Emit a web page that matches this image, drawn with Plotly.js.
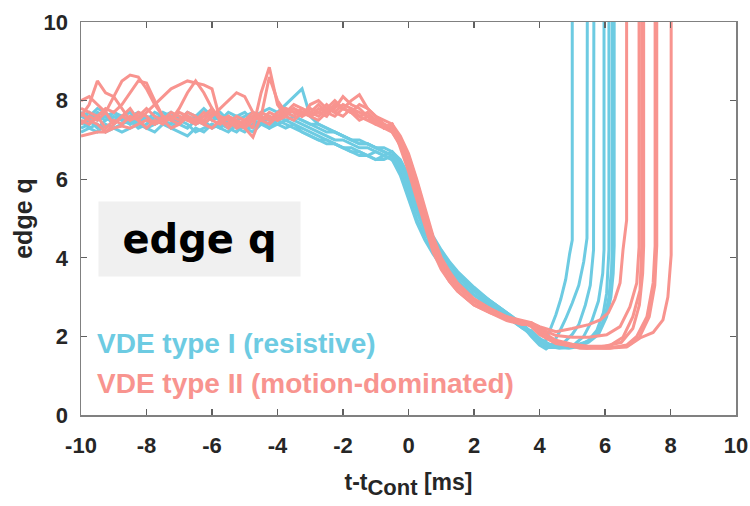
<!DOCTYPE html>
<html>
<head>
<meta charset="utf-8">
<script src="https://cdn.plot.ly/plotly-3.0.1.min.js"></script>
<style>
html,body{margin:0;padding:0;background:#fff;}
#chart{width:750px;height:506px;}
</style>
</head>
<body>
<div id="chart"></div>
<script>
// Shared time grids [ms]
const tPre = [-10,-9.75,-9.5,-9.25,-9,-8.75,-8.5,-8.25,-8,-7.75,-7.5,-7.25,-7,-6.75,-6.5,-6.25,-6,-5.75,-5.5,-5.25,-5,-4.75,-4.5,-4.25,-4,-3.75,-3.5,-3.25,-3,-2.75,-2.5,-2.25,-2,-1.75,-1.5,-1.25,-1,-0.75,-0.5];
const tDrop = [-0.25,0,0.25,0.5,0.75,1,1.25,1.5,2,2.5,3,3.5];

// VDE type I (resistive) - edge q before the current quench
const c1Pre = [7.4,7.5,7.3,7.5,7.6,7.5,7.4,7.6,7.5,7.7,7.6,7.5,7.4,7.6,7.5,7.4,7.6,7.5,7.7,7.6,7.5,7.6,7.7,7.8,7.7,7.9,8.1,8.3,7.6,7.4,7.3,7.2,7.1,7.0,6.9,6.9,6.8,6.7,6.6];
const c2Pre = [7.6,7.7,7.5,7.6,7.4,7.6,7.7,7.5,7.6,7.4,7.5,7.3,7.5,7.4,7.2,7.3,7.4,7.3,7.5,7.4,7.3,7.5,7.4,7.6,7.5,7.6,7.5,7.4,7.3,7.2,7.1,7.0,7.0,6.9,6.8,6.8,6.7,6.6,6.7];
const c3Pre = [7.3,7.4,7.6,7.5,7.7,7.6,7.5,7.4,7.6,7.5,7.6,7.7,7.5,7.6,7.4,7.5,7.3,7.4,7.3,7.2,7.4,7.3,7.5,7.4,7.6,7.5,7.4,7.3,7.2,7.1,7.0,6.9,6.8,6.8,6.7,6.6,6.7,6.6,6.5];
const c4Pre = [7.5,7.3,7.4,7.2,7.3,7.4,7.5,7.3,7.4,7.6,7.5,7.4,7.6,7.5,7.6,7.7,7.5,7.6,7.4,7.5,7.6,7.7,7.6,7.5,7.4,7.5,7.6,7.5,7.4,7.3,7.2,7.2,7.1,7.0,6.9,6.9,6.8,6.7,6.6];
const c5Pre = [7.7,7.6,7.8,7.7,7.5,7.6,7.4,7.5,7.3,7.4,7.5,7.6,7.4,7.3,7.5,7.6,7.7,7.5,7.4,7.3,7.2,7.4,7.5,7.3,7.4,7.3,7.4,7.2,7.1,7.0,7.0,6.9,6.8,6.7,6.6,6.6,6.5,6.5,6.6];
const c6Pre = [7.2,7.3,7.2,7.4,7.3,7.2,7.3,7.4,7.3,7.2,7.4,7.3,7.2,7.1,7.3,7.2,7.4,7.3,7.2,7.4,7.3,7.2,7.4,7.3,7.5,7.4,7.3,7.2,7.1,7.0,6.9,6.9,6.8,6.7,6.7,6.6,6.5,6.6,6.5];
const c7Pre = [7.6,7.5,7.7,7.6,7.7,7.5,7.6,7.7,7.6,7.5,7.7,7.6,7.5,7.7,7.6,7.8,7.6,7.7,7.5,7.6,7.7,7.5,7.6,7.5,7.6,7.7,7.6,7.5,7.4,7.4,7.3,7.2,7.1,7.0,7.0,6.9,6.8,6.8,6.7];

// VDE type I - the drop through the current quench
const c1Drop = [6.3,5.8,5.2,4.7,4.3,3.95,3.7,3.5,3.15,2.85,2.55,2.25];
const c2Drop = [6.45,6.0,5.45,4.9,4.5,4.15,3.85,3.6,3.2,2.9,2.6,2.25];
const c3Drop = [6.2,5.6,5.0,4.5,4.15,3.85,3.6,3.4,3.05,2.8,2.5,2.2];
const c4Drop = [6.4,5.95,5.35,4.85,4.45,4.1,3.8,3.6,3.2,2.9,2.6,2.3];
const c5Drop = [6.3,5.75,5.15,4.65,4.25,3.95,3.7,3.5,3.15,2.85,2.55,2.25];
const c6Drop = [6.1,5.5,4.9,4.45,4.1,3.8,3.6,3.4,3.05,2.75,2.5,2.2];
const c7Drop = [6.5,6.1,5.55,5.0,4.55,4.2,3.9,3.65,3.25,2.9,2.6,2.3];

// VDE type I - tails (minimum and final rise)
const c1TailT = [3.75,4.0,4.2,4.35,4.5,4.65,4.8,4.92,5.0,5.0];
const c1TailQ = [2.05,1.85,1.9,2.2,2.55,2.95,3.45,4.1,4.45,10.5];
const c2TailT = [3.75,4.0,4.2,4.4,4.6,4.8,5.0,5.2,5.35,5.45,5.46];
const c2TailQ = [2.0,1.78,1.68,1.8,2.1,2.45,2.85,3.3,3.9,4.5,10.5];
const c3TailT = [3.75,4.0,4.25,4.5,4.75,5.0,5.2,5.4,5.55,5.65,5.66];
const c3TailQ = [2.05,1.85,1.72,1.72,1.85,2.05,2.3,2.8,3.3,4.2,10.5];
const c4TailT = [3.75,4.0,4.3,4.6,4.9,5.1,5.35,5.6,5.8,5.93,5.97,5.97];
const c4TailQ = [2.1,1.9,1.75,1.7,1.73,1.82,2.0,2.4,2.9,3.6,4.2,10.5];
const c5TailT = [3.75,4.0,4.3,4.6,4.9,5.2,5.5,5.75,5.95,6.05,6.1,6.12,6.12];
const c5TailQ = [2.1,1.92,1.8,1.74,1.72,1.76,1.9,2.15,2.6,3.1,3.7,4.2,10.5];
const c6TailT = [3.75,4.0,4.3,4.6,4.9,5.2,5.5,5.8,6.0,6.12,6.2,6.22,6.22];
const c6TailQ = [2.15,1.95,1.8,1.76,1.77,1.8,1.88,2.1,2.5,3.0,3.7,4.2,10.5];
const c7TailT = [3.75,4.0,4.3,4.6,4.9,5.2,5.5,5.8,6.05,6.18,6.25,6.28,6.28];
const c7TailQ = [2.1,1.9,1.78,1.72,1.7,1.74,1.85,2.05,2.5,3.0,3.6,4.3,10.5];

// VDE type II (motion-dominated) - edge q before the current quench
const s1Pre = [7.6,7.9,8.5,8.2,8.1,7.8,7.5,7.7,7.6,7.4,7.5,7.7,7.6,7.5,7.4,7.6,7.8,7.5,7.4,7.6,7.5,7.7,7.6,7.5,7.7,7.8,7.7,7.6,7.8,7.7,7.6,7.9,7.8,7.7,7.6,7.5,7.4,7.4,7.3];
const s2Pre = [8.0,8.1,7.9,7.7,8.1,8.5,8.65,8.6,8.3,7.9,7.6,7.5,7.7,7.6,7.4,7.5,7.7,7.6,7.5,7.3,7.4,7.6,7.5,7.7,7.6,7.8,7.7,7.6,7.9,8.0,7.8,7.7,7.9,7.8,7.6,7.7,7.5,7.4,7.2];
const s3Pre = [7.4,7.6,7.5,7.7,7.4,7.6,7.8,7.5,7.7,7.9,8.1,8.3,8.4,8.5,8.45,8.4,8.3,7.5,7.3,7.5,7.4,7.6,7.5,7.4,7.6,7.7,7.8,7.6,7.7,7.9,7.7,7.8,8.1,7.9,7.8,7.6,7.5,7.3,7.4];
const s4Pre = [7.1,7.15,7.2,7.2,7.3,7.35,7.3,7.4,7.5,7.4,7.6,7.5,7.4,7.6,7.5,7.4,7.3,7.5,7.6,7.4,7.5,7.3,8.2,8.85,7.9,7.6,7.8,7.7,7.6,7.8,7.7,7.6,7.8,7.7,7.9,7.8,7.6,7.5,7.4];
const s5Pre = [7.8,7.7,7.6,7.8,7.7,7.9,8.2,8.5,8.45,8.0,7.6,7.5,7.8,8.2,8.5,8.2,7.8,7.5,7.6,7.4,7.3,7.5,7.7,7.6,7.5,7.7,7.6,7.8,7.7,7.6,7.8,8.0,7.8,7.7,7.5,7.6,7.4,7.3,7.4];
const s6Pre = [7.5,7.4,7.6,7.3,7.5,7.4,7.6,7.5,7.3,7.5,7.4,7.6,7.5,7.7,7.6,7.4,7.6,7.8,8.0,8.2,8.1,7.7,7.5,7.6,7.5,7.6,7.5,7.7,7.6,7.5,7.7,7.9,7.8,8.0,8.15,7.8,7.6,7.4,7.3];
const s7Pre = [7.7,7.5,7.4,7.2,7.4,7.6,7.5,7.6,7.8,7.6,7.5,7.3,7.4,7.6,7.5,7.7,7.5,7.4,7.6,7.5,7.3,7.07,7.6,8.6,8.0,7.7,7.9,7.8,7.6,7.7,7.9,7.7,7.6,7.8,7.7,7.6,7.5,7.3,7.2];

// VDE type II - the drop
const s1Drop = [7.0,6.55,5.9,5.1,4.45,3.95,3.6,3.35,2.95,2.7,2.5,2.35];
const s2Drop = [6.85,6.3,5.6,4.85,4.2,3.75,3.4,3.15,2.8,2.6,2.45,2.3];
const s3Drop = [7.1,6.65,6.0,5.25,4.55,4.0,3.65,3.35,2.95,2.7,2.5,2.4];
const s4Drop = [6.95,6.45,5.8,5.0,4.35,3.85,3.5,3.25,2.9,2.65,2.45,2.3];
const s5Drop = [6.8,6.2,5.5,4.8,4.15,3.7,3.4,3.15,2.8,2.6,2.4,2.3];
const s6Drop = [7.05,6.6,5.95,5.2,4.5,3.95,3.6,3.3,2.9,2.65,2.45,2.35];
const s7Drop = [6.9,6.4,5.7,4.95,4.3,3.8,3.5,3.25,2.9,2.65,2.45,2.3];

// VDE type II - tails
const s1TailT = [3.75,4.0,4.5,5.0,5.5,5.85,6.1,6.3,6.46,6.55,6.66,6.66];
const s1TailQ = [2.35,2.25,2.12,2.2,2.3,2.42,2.6,2.95,3.36,4.2,4.96,10.5];
const s2TailT = [3.75,4.0,4.5,5.0,5.5,6.05,6.46,6.76,6.97,7.04,7.04];
const s2TailQ = [2.3,2.2,2.02,1.98,1.98,2.04,2.25,2.75,3.36,4.27,10.5];
const s3TailT = [3.75,4.0,4.5,5.0,5.45,6.15,6.55,6.85,7.07,7.12,7.12];
const s3TailQ = [2.35,2.2,1.85,1.74,1.7,1.77,1.98,2.5,3.18,4.27,10.5];
const s4TailT = [3.75,4.0,4.5,5.0,5.5,6.0,6.5,6.85,7.05,7.15,7.18,7.18];
const s4TailQ = [2.3,2.15,1.9,1.8,1.75,1.75,1.85,2.2,2.8,3.6,4.3,10.5];
const s5TailT = [3.75,4.0,4.5,5.24,6.15,6.66,6.97,7.28,7.47,7.53,7.53];
const s5TailQ = [2.3,2.1,1.85,1.72,1.7,1.78,2.0,2.5,3.36,4.3,10.5];
const s6TailT = [3.75,4.0,4.5,5.0,5.6,6.2,6.7,7.05,7.35,7.52,7.58,7.58];
const s6TailQ = [2.25,2.05,1.82,1.75,1.72,1.72,1.76,1.98,2.5,3.3,4.3,10.5];
const s7TailT = [3.75,4.0,4.5,5.24,6.05,6.66,7.07,7.47,7.77,7.92,8.02,8.02];
const s7TailQ = [2.3,2.1,1.85,1.7,1.7,1.73,1.96,2.1,2.42,3.0,4.07,10.5];

// Tick labels and texts
const xTickVals = [-10,-8,-6,-4,-2,0,2,4,6,8,10];
const xTickText = ['-10','-8','-6','-4','-2','0','2','4','6','8','10'];
const yTickVals = [0,2,4,6,8,10];
const yTickText = ['0','2','4','6','8','10'];
const xTitle = 't-t<sub><span style="font-size:22px;font-weight:bold">Cont</span></sub><span style="font-weight:bold"> [ms]</span>';
const yTitle = 'edge q';
const panelLabel = 'edge q';
const type1Label = 'VDE type I (resistive)';
const type2Label = 'VDE type II (motion-dominated)';

const cyan = '#6dcbe2';
const salmon = '#f8948f';

const typeI = [
  [c1Pre,c1Drop,c1TailT,c1TailQ],[c2Pre,c2Drop,c2TailT,c2TailQ],[c3Pre,c3Drop,c3TailT,c3TailQ],
  [c4Pre,c4Drop,c4TailT,c4TailQ],[c5Pre,c5Drop,c5TailT,c5TailQ],[c6Pre,c6Drop,c6TailT,c6TailQ],
  [c7Pre,c7Drop,c7TailT,c7TailQ]
];
const typeII = [
  [s1Pre,s1Drop,s1TailT,s1TailQ],[s2Pre,s2Drop,s2TailT,s2TailQ],[s3Pre,s3Drop,s3TailT,s3TailQ],
  [s4Pre,s4Drop,s4TailT,s4TailQ],[s5Pre,s5Drop,s5TailT,s5TailQ],[s6Pre,s6Drop,s6TailT,s6TailQ],
  [s7Pre,s7Drop,s7TailT,s7TailQ]
];

function mk(parts, color){
  return {
    type:'scatter', mode:'lines',
    x: tPre.concat(tDrop, parts[2]),
    y: parts[0].concat(parts[1], parts[3]),
    line:{color:color, width:3, shape:'linear'},
    showlegend:false, hoverinfo:'skip'
  };
}
const traces = typeI.map(p=>mk(p,cyan)).concat(typeII.map(p=>mk(p,salmon)));

const fam = '"Liberation Sans", Arial, sans-serif';
const tickFont = {family:fam, size:22, color:'#262626', weight:'bold'};
const axCommon = {
  showline:true, linecolor:'#808080', linewidth:1.5, mirror:'ticks',
  ticks:'inside', ticklen:6, tickwidth:1.2, tickcolor:'#606060',
  showgrid:false, zeroline:false, tickfont:tickFont, ticklabeloverflow:'allow'
};

const layout = {
  width:750, height:506,
  margin:{l:81, r:14, t:22, b:91},
  paper_bgcolor:'#ffffff', plot_bgcolor:'#ffffff',
  xaxis: Object.assign({}, axCommon, {
    range:[-10,10], tickmode:'array', tickvals:xTickVals, ticktext:xTickText, ticklabelstandoff:10,
    title:{text:xTitle, font:{family:fam, size:23, color:'#262626', weight:'bold'}, standoff:17}
  }),
  yaxis: Object.assign({}, axCommon, {
    range:[0,10], tickmode:'array', tickvals:yTickVals, ticktext:yTickText, ticklabelstandoff:7,
    title:{text:yTitle, font:{family:fam, size:25, color:'#262626', weight:'bold'}, standoff:4}
  }),
  annotations:[
    {xref:'paper', yref:'paper', x:0.181, y:0.448, xanchor:'center', yanchor:'middle',
     text:panelLabel, showarrow:false, bgcolor:'#f0f0f0', width:199, height:72,
     font:{family:'"DejaVu Sans", sans-serif', size:40, color:'#000000', weight:'bold'}},
    {xref:'paper', yref:'paper', x:0.021, y:(415-343)/393, xanchor:'left', yanchor:'middle',
     text:type1Label, showarrow:false,
     font:{family:fam, size:28, color:cyan, weight:'bold'}},
    {xref:'paper', yref:'paper', x:0.021, y:(415-383)/393, xanchor:'left', yanchor:'middle',
     text:type2Label, showarrow:false,
     font:{family:fam, size:28, color:salmon, weight:'bold'}}
  ]
};

Plotly.newPlot('chart', traces, layout, {staticPlot:true, displayModeBar:false});
</script>
</body>
</html>
